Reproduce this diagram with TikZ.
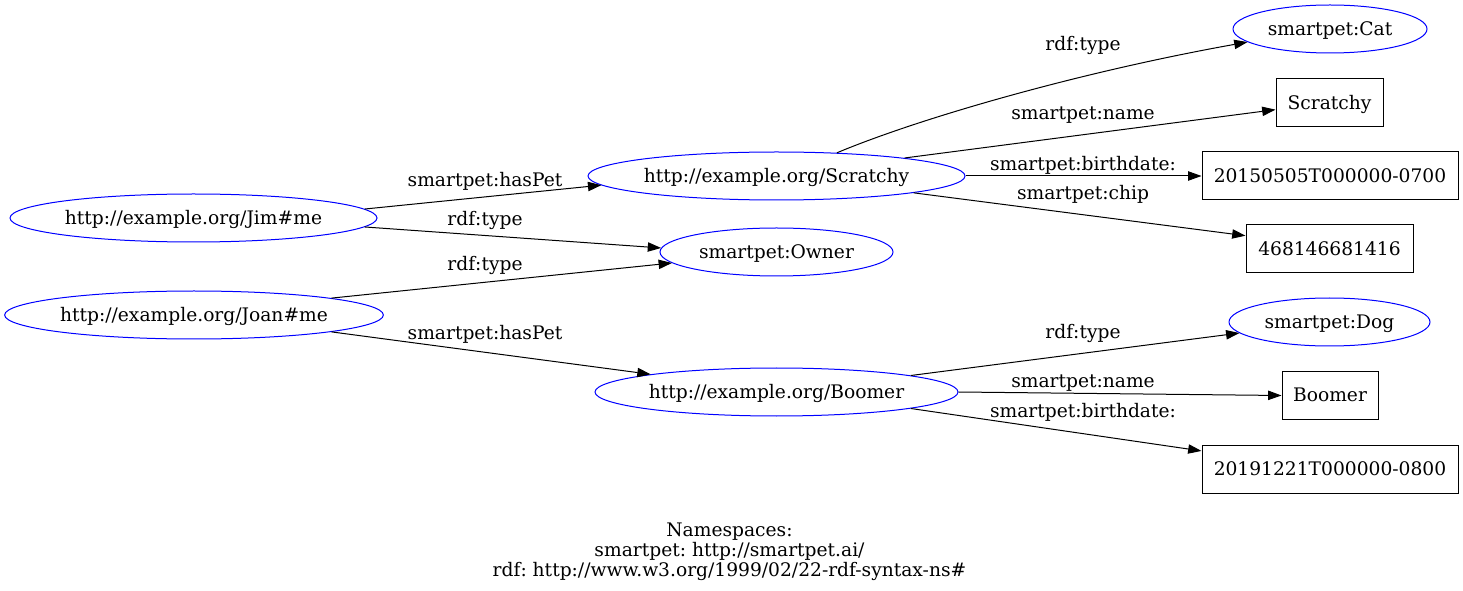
\documentclass[tikz,border=0pt]{standalone}
\usepackage{fontspec}
\setmainfont{DejaVu Serif}
\usetikzlibrary{shapes.geometric,arrows.meta}
\frenchspacing
\begin{document}
\begin{tikzpicture}[x=0.75pt,y=-0.75pt,
  font=\fontsize{14}{16.5}\selectfont,
  res/.style={ellipse, draw=blue, line width=0.75pt, inner sep=0pt,
    minimum height=36pt, text height=11.3pt, text depth=2.2pt},
  lit/.style={rectangle, draw=black, line width=0.75pt, inner sep=0pt,
    minimum height=36pt, text height=11.3pt, text depth=2.2pt},
  edge/.style={-{Triangle[length=10pt,width=7pt]}, line width=0.75pt, black},
  lbl/.style={anchor=base, inner sep=0pt},
  foot/.style={anchor=base, inner sep=0pt}]
\useasboundingbox (0,0) rectangle (1463,591);

% resource nodes
\node[res, minimum width=275.25pt] (jim)  at (193.5,218) {http://example.org/Jim\#me};
\node[res, minimum width=283.5pt]  (joan) at (194,315)   {http://example.org/Joan\#me};
\node[res, minimum width=282.75pt] (scr)  at (776.5,176) {http://example.org/Scratchy};
\node[res, minimum width=174.75pt] (own)  at (776.5,252) {smartpet:Owner};
\node[res, minimum width=272.25pt] (boo)  at (776.5,392) {http://example.org/Boomer};
\node[res, minimum width=145.5pt]  (cat)  at (1330,29)   {smartpet:Cat};
\node[res, minimum width=150.75pt] (dog)  at (1329.5,322) {smartpet:Dog};

% literal nodes
\node[lit, minimum width=80.25pt]  (scrl) at (1329.5,103) {Scratchy};
\node[lit, minimum width=192pt]    (bd1)  at (1330,176)   {20150505T000000-0700};
\node[lit, minimum width=125.25pt] (chip) at (1329.5,249) {468146681416};
\node[lit, minimum width=72pt]     (bool) at (1330,395.5) {Boomer};
\node[lit, minimum width=192pt]    (bd2)  at (1330,469)   {20191221T000000-0800};

% edges
\draw[edge] (jim.3.85) -- (scr.183.85);
\draw[edge] (jim.-3.73) -- (own.178);
\draw[edge] (joan.7) -- (own.186.55);
\draw[edge] (joan.-7.65) -- (boo.172.46);
\draw[edge] (scr.21.5) .. controls (920,118) and (1080,72) .. (cat.189.2);
\draw[edge] (scr.8) -- (scrl.187.45);
\draw[edge] (scr.east) -- (bd1.west);
\draw[edge] (scr.-7.54) -- (chip.171.8);
\draw[edge] (boo.7.37) -- (dog.187.17);
\draw[edge] (boo.east) -- (bool.west);
\draw[edge] (boo.-7.65) -- (bd2.172.9);

% edge labels
\node[lbl] (l1)  at (485,186.7) {smartpet:hasPet};
\node[lbl] (l2)  at (485,225.5) {rdf:type};
\node[lbl] (l3)  at (485,271)   {rdf:type};
\node[lbl] (l4)  at (485,339.3) {smartpet:hasPet};
\node[lbl] (l5)  at (1083,51)   {rdf:type};
\node[lbl] (l6)  at (1083,120)  {smartpet:name};
\node[lbl] (l7)  at (1083,171)  {smartpet:birthdate:};
\node[lbl] (l8)  at (1083,200)  {smartpet:chip};
\node[lbl] (l9)  at (1083,338.3) {rdf:type};
\node[lbl] (l10) at (1083,387.3) {smartpet:name};
\node[lbl] (l11) at (1083,417.3) {smartpet:birthdate:};

% footer
\node[foot] (ns)  at (729.5,536.5) {Namespaces:};
\node[foot] (ns1) at (729.5,556.5) {smartpet: http://smartpet.ai/};
\node[foot] (ns2) at (729.5,576.5) {rdf: http://www.w3.org/1999/02/22-rdf-syntax-ns\#};
\end{tikzpicture}
\end{document}
